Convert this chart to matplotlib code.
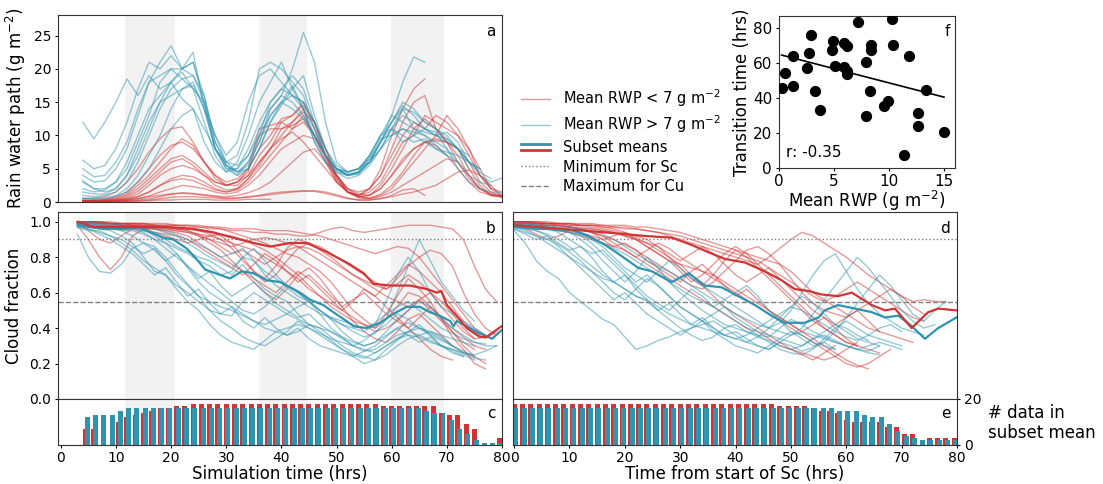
import matplotlib
matplotlib.use('Agg')
import matplotlib.pyplot as plt
import numpy as np
from matplotlib.lines import Line2D
from matplotlib.legend_handler import HandlerBase

red = '#cf3535'
blue = '#2f94b0'

# ---- panel a: rain water path (g m-2), every 2 h from t=4
t_rwp = np.arange(4, 81, 2)
rwp_blue = [
    [12, 9.5, 12, 15, 18.5, 16, 19, 17, 18, 15.5, 14, 9, 6, 4.5, 6, 10, 15, 18, 21, 17, 14, 10, 7, 5, 4.5, 5, 7, 10, 13, 12, 11, 10.5, 10, 10.5, 9, 6, 4, 3, 3.6],
    [6.3, 5, 5.5, 8, 12, 17, 21, 20, 22, 20, 22.5, 14, 8, 5, 4, 6, 9, 13, 15, 16, 14, 9, 6, 4.5, 4, 4.5, 7, 10, 12, 14.5, 13, 11, 10.5, 8, 5, 3, 2, 1.5, 1.4],
    [5, 3.8, 4, 6, 9, 14, 18, 21, 23.5, 20, 21, 15, 8, 5.5, 4, 5, 8, 12, 14.5, 17, 19, 13, 8, 5, 4, 4.3, 6, 9, 13, 18, 21.8, 21],
    [4, 3, 3.2, 5, 8, 13, 18, 19, 20, 18.5, 19, 16, 9, 5.5, 4.5, 5.5, 9, 14, 16, 20, 25.5, 21, 12, 6, 4.5, 5, 7, 10, 11, 9, 10, 11, 10, 9, 8, 7],
    [3, 2, 2, 3, 5, 9, 13, 18, 20, 20, 19, 15, 8, 5.5, 4.5, 6, 10, 15, 17, 19, 17, 12, 7, 5, 4, 4.5, 6, 8, 11, 13, 12, 11, 10, 9.5, 8, 6, 5],
    [1, 0.8, 1, 1.5, 3, 6, 10, 14, 17, 18.5, 17, 15, 10, 6, 4.5, 5, 8, 12, 15, 17.5, 14, 9, 6, 4.5, 3.5, 4, 5.5, 8, 11, 14, 13.5, 12, 11, 10, 8, 5],
    [0.6, 0.5, 0.6, 1, 2, 4, 7, 10, 14, 17, 17.5, 14, 8, 5, 5, 7, 11, 14, 16, 15, 13, 10, 7, 5, 4.5, 5, 6, 8, 10, 11, 10.5, 10, 9, 8, 6, 4, 3, 2.5],
    [0.5, 0.4, 0.5, 0.8, 1.5, 3, 5, 8, 11, 13, 14, 11, 8, 6, 7, 12, 20, 21, 20, 18, 16, 11, 7, 5, 4, 4.5, 6, 9, 12, 14, 11, 10, 8.5, 7, 6],
    [3.2, 2, 1.5, 2, 4, 8, 12, 15, 16, 17, 18, 14, 10, 7, 9, 15, 19, 20, 18, 16, 15, 12, 8, 5.5, 4.5, 5, 6.5, 9, 11, 10, 9, 9.5, 8, 7.5, 7, 6, 5],
    [2, 1.5, 1.8, 3, 6, 10, 14, 16, 18, 19.5, 17, 12, 7, 4.5, 5, 8, 12, 15, 17, 16, 15, 11, 7, 4.8, 4, 4.2, 6, 9, 12, 15, 14, 12, 11, 9.5, 8, 6, 4.5, 3.5],
    [1.5, 1.2, 1.2, 2, 4, 7, 11, 15, 18, 20, 21, 16, 9, 6, 5.5, 7, 10, 13, 15, 14, 12.5, 10, 7, 5, 4.2, 4.5, 6.5, 9.5, 10, 11, 10, 9, 8, 7],
]
rwp_red = [
    [0.5, 0.6, 0.8, 1.5, 3, 5, 7.5, 9.5, 11, 11.3, 9, 6, 3.5, 2.5, 3, 5, 11, 11.5, 12, 13, 14.5, 12, 7, 3.5, 1.5, 1, 2, 5, 10, 14, 17, 18.5],
    [0.3, 0.3, 0.4, 0.8, 1.5, 3, 5, 7, 8.5, 9, 8, 6, 4, 3, 3.5, 5, 8, 10, 12.5, 13, 15, 12, 8, 4, 2, 1.5, 2, 4, 8, 12, 15, 16, 11, 9, 7, 4, 2, 1.2, 1],
    [0.2, 0.2, 0.3, 0.5, 1, 2, 3.5, 5, 6.5, 7, 6, 4.5, 3, 2.5, 3, 4, 6, 8, 11, 12, 14, 11, 6.5, 3, 1.5, 1, 1.5, 3, 6, 9, 10, 13, 12, 11, 10, 8, 4, 2, 1.5],
    [0.2, 0.2, 0.2, 0.3, 0.6, 1.2, 2.5, 4, 5, 5.5, 5, 4, 3, 2.5, 3, 4.5, 10, 11, 11, 11.5, 12.5, 10, 7, 4, 2, 1.2, 1, 2, 4, 6, 8, 9, 9.5, 9, 8, 5, 2.5, 1, 0.8],
    [0.1, 0.1, 0.2, 0.3, 0.5, 0.8, 1.5, 2.5, 3.5, 4, 3.8, 3, 2, 1.5, 1.8, 3, 5, 7, 9, 11, 12, 10, 7, 3.5, 1.5, 0.8, 1, 2, 4, 6.5, 8, 9, 9.2, 9, 8, 6, 3, 1.5, 0.8],
    [0.1, 0.1, 0.1, 0.2, 0.3, 0.5, 0.9, 1.5, 2, 2.5, 2.3, 2, 1.5, 1.2, 1.5, 2.5, 4, 6, 8, 9, 10, 9.5, 7, 4, 1.5, 0.6, 0.5, 1, 2, 4, 6, 8, 10, 13, 11, 8, 5, 2, 1],
    [0.1, 0.1, 0.1, 0.1, 0.2, 0.3, 0.5, 0.8, 1.2, 1.4, 1.3, 1.1, 0.9, 0.8, 1, 1.4, 2, 3, 4.5, 6, 7.5, 8, 6, 4, 2, 0.8, 0.5, 0.8, 1.5, 2.5, 3.5, 4.5, 5.5, 6.5, 6, 4, 2, 1, 0.7],
    [0.1, 0.1, 0.1, 0.1, 0.1, 0.2, 0.3, 0.5, 0.7, 0.8, 0.8, 0.7, 0.6, 0.5, 0.6, 0.8, 1, 1.3, 1.5, 1.6, 1.7, 1.6, 1.3, 0.9, 0.5, 0.3, 0.3, 0.5, 0.8, 1.2, 1.5, 2, 2.5, 3.5, 4.5, 4.8, 4, 2.5, 0.8],
    [0.1, 0.1, 0.1, 0.1, 0.1, 0.1, 0.2, 0.3, 0.3, 0.4, 0.4, 0.4, 0.3, 0.3, 0.3, 0.4, 0.4, 0.4],
    [0.1, 0.1, 0.1, 0.2, 0.3, 0.5, 0.8, 1, 1.2, 1.3, 1.2, 1, 0.8, 0.6, 0.6, 0.7, 0.9, 1.1, 1.3, 1.5, 1.6, 1.7, 1.5, 1.1, 0.6, 0.3, 0.3, 0.5, 1, 1.8, 2, 1],
    [0.2, 0.2, 0.3, 0.6, 1.2, 2.5, 4, 6, 8, 9.5, 8.5, 6, 4, 2.5, 2.5, 4, 7, 9, 12, 11, 13, 10, 6, 3, 1.5, 1, 2, 4, 7, 10, 12, 11, 13, 12, 10, 7, 4, 2],
    [0.1, 0.1, 0.2, 0.4, 0.8, 1.6, 3, 4.5, 6, 6.5, 5.5, 4, 2.5, 1.8, 2, 3.5, 6, 8, 10, 12, 13.5, 12, 8, 4, 1.5, 0.8, 1, 2.5, 5, 8, 11, 12.5, 11, 9, 6, 3.5, 2, 1.2, 0.9],
    [0.1, 0.1, 0.1, 0.2, 0.4, 0.8, 1.5, 2.5, 3.2, 3.5, 3.2, 2.5, 1.8, 1.5, 2, 3.5, 5.5, 8, 9.5, 10.5, 9, 7, 5, 3, 1.5, 0.8, 0.6, 1.2, 2.5, 4.5, 7, 9, 8.5, 7, 5, 3, 1.5, 1, 0.8],
]

# ---- panel b: cloud fraction (%) vs simulation time, every 2 h from t=3
t_cf = np.arange(3, 80, 2)
cf_blue = [
    [93, 80, 72, 71, 76, 85, 88, 86, 80, 72, 65, 58, 55, 52, 50, 47, 44, 42, 45, 48, 52, 55, 48, 40, 35, 30, 27, 28, 32, 36, 38, 36, 33, 30, 28, 26, 25, 27, 30],
    [98, 97, 96, 95, 92, 88, 80, 72, 70, 62, 55, 50, 42, 36, 32, 30, 28, 33, 38, 40, 42, 40, 37, 34, 32, 30, 28, 26, 30, 34, 36, 35, 32, 30, 28, 25, 22],
    [100, 100, 99, 99, 98, 97, 96, 92, 88, 82, 74, 66, 60, 56, 52, 48, 44, 40, 38, 36, 38, 42, 40, 35, 30, 26, 24, 22, 25, 30, 34, 36, 38, 35, 30, 26, 23, 22],
    [99, 99, 98, 98, 97, 96, 94, 90, 85, 80, 75, 70, 65, 60, 55, 50, 48, 52, 58, 55, 48, 42, 38, 33, 28, 24, 20, 22, 28, 33, 38, 40, 37, 34, 30, 27, 24],
    [98, 98, 97, 96, 95, 95, 93, 90, 88, 85, 82, 78, 75, 70, 72, 80, 85, 78, 70, 64, 60, 55, 50, 45, 38, 33, 30, 32, 38, 45, 50, 55, 52, 45, 40, 36, 32, 31],
    [99, 98, 97, 97, 96, 96, 95, 94, 93, 92, 88, 84, 80, 77, 74, 80, 78, 72, 68, 63, 58, 55, 50, 46, 42, 40, 38, 42, 55, 70, 80, 72, 60, 52, 48, 44, 40, 36],
    [98, 98, 97, 97, 96, 96, 95, 93, 90, 86, 83, 80, 78, 74, 70, 76, 68, 62, 58, 64, 60, 55, 50, 45, 42, 38, 35, 37, 45, 60, 75, 90, 78, 66, 58, 50, 44],
    [99, 99, 98, 98, 98, 97, 97, 96, 95, 93, 90, 87, 84, 80, 82, 85, 78, 70, 64, 60, 56, 52, 48, 46, 44, 42, 40, 43, 48, 52, 55, 50, 45, 40, 37, 34, 32, 30, 30],
    [97, 96, 94, 92, 88, 84, 78, 74, 70, 64, 60, 55, 50, 48, 47, 55, 60, 56, 52, 48, 45, 42, 40, 38, 35, 32, 30, 32, 36, 40, 43, 40, 38, 36, 34, 32, 30],
    [98, 96, 93, 90, 86, 82, 76, 70, 74, 66, 58, 62, 54, 48, 52, 44, 40, 46, 40, 36, 40, 34, 30, 28, 26, 24, 27, 30, 35, 40, 36, 32, 35, 30, 27, 24],
    [99, 98, 98, 97, 95, 92, 88, 84, 78, 82, 75, 68, 72, 64, 58, 62, 66, 60, 54, 50, 46, 48, 42, 38, 34, 30, 33, 38, 42, 48, 45, 40, 36, 33, 30],
    [97, 95, 95, 92, 90, 86, 82, 85, 78, 70, 64, 58, 50, 44, 40, 35, 32, 30, 34, 38, 44, 40, 36, 32, 28, 25, 23, 26, 30, 34, 38, 42, 36, 30, 26, 24],
]
cf_red = [
    [100, 100, 100, 99, 99, 99, 99, 98, 98, 98, 97, 97, 96, 96, 95, 95, 94, 94, 93, 93, 92, 92, 94, 96, 97, 95, 94, 95, 96, 97, 98, 98, 98, 97, 96, 90, 75, 62, 55],
    [99, 95, 90, 88, 92, 96, 97, 97, 97, 96, 96, 95, 94, 92, 88, 80, 72, 68, 75, 85, 90, 88, 84, 80, 75, 70, 66, 62, 58, 55, 52, 56, 60, 55, 48, 40, 34, 35],
    [100, 100, 99, 99, 99, 98, 98, 98, 97, 97, 96, 95, 93, 90, 85, 78, 72, 66, 70, 78, 85, 88, 86, 82, 78, 74, 70, 66, 62, 65, 70, 66, 60, 52, 45, 38, 34],
    [100, 100, 100, 100, 99, 99, 99, 99, 99, 98, 98, 98, 97, 96, 94, 92, 90, 88, 85, 82, 80, 76, 72, 66, 58, 50, 45, 40, 48, 58, 68, 62, 55, 45, 35, 28, 20, 17],
    [100, 100, 99, 99, 98, 98, 97, 97, 96, 95, 94, 92, 90, 88, 86, 88, 90, 91, 90, 88, 86, 85, 82, 78, 74, 70, 67, 64, 62, 68, 75, 80, 84, 82, 75, 60, 48, 40, 36],
    [99, 99, 99, 98, 98, 98, 98, 97, 97, 96, 95, 92, 88, 84, 78, 72, 66, 60, 56, 62, 70, 74, 68, 60, 52, 44, 38, 34, 32, 38, 45, 48, 42, 36, 30, 26, 24],
    [100, 100, 100, 99, 99, 99, 99, 98, 98, 98, 98, 97, 97, 97, 96, 96, 96, 95, 95, 95, 94, 93, 92, 90, 88, 86, 84, 82, 84, 86, 85, 80, 72, 64, 56, 48, 40, 36],
    [98, 90, 80, 73, 80, 92, 96, 96, 96, 95, 94, 93, 92, 90, 88, 86, 84, 80, 76, 72, 68, 62, 58, 54, 50, 55, 62, 58, 52, 46, 40, 34, 28, 24, 22],
    [100, 100, 99, 99, 98, 97, 96, 94, 92, 90, 88, 90, 92, 93, 92, 90, 87, 84, 80, 75, 70, 64, 58, 52, 48, 44, 42, 40, 45, 52, 60, 58, 52, 46, 40, 35, 30, 28],
    [100, 100, 99, 99, 98, 98, 97, 96, 94, 92, 90, 86, 82, 78, 74, 70, 76, 82, 78, 72, 66, 70, 64, 58, 52, 56, 60, 54, 48, 44, 40, 46, 52, 46, 38, 30, 24, 20],
    [100, 100, 100, 99, 99, 99, 98, 98, 97, 96, 95, 93, 90, 86, 82, 84, 80, 76, 80, 84, 86, 82, 78, 74, 70, 66, 62, 58, 64, 70, 76, 72, 66, 60, 52, 44, 38, 34, 38],
    [99, 99, 98, 98, 97, 97, 96, 96, 95, 94, 92, 88, 84, 80, 76, 72, 68, 64, 60, 66, 72, 68, 62, 56, 50, 46, 42, 38, 40, 44, 50, 56, 50, 44, 38, 32, 28],
]
# subset means (simulation time)
tb_mean_blue = [3.2, 5.3, 7.7, 11.9, 14.1, 18.6, 20.4, 22.8, 24.6, 26.2, 28.9, 30.7, 32.8, 34.9, 37.3, 39.8, 41.6, 43.4, 45.2, 47.6, 49.4, 51.8, 53.1, 55.5, 57.9, 60.3, 62.7, 65.1, 66.9, 68.7, 70.6, 71.2, 71.8, 73.6, 76, 78.2, 80]
cfb_mean_blue = [0.98, 0.97, 0.96, 0.96, 0.97, 0.91, 0.9, 0.85, 0.79, 0.73, 0.7, 0.68, 0.72, 0.71, 0.67, 0.66, 0.63, 0.6, 0.56, 0.53, 0.49, 0.44, 0.41, 0.4, 0.43, 0.48, 0.52, 0.52, 0.49, 0.47, 0.44, 0.41, 0.44, 0.41, 0.37, 0.34, 0.39]
tb_mean_red = [3.2, 6, 12, 19.2, 24, 27.7, 30, 32.5, 35, 38, 41.6, 44.6, 48.2, 50, 52.4, 54.9, 56.7, 59.7, 63.3, 66.4, 68.2, 69, 70, 71.5, 73.6, 76, 77.2, 79.9]
cfb_mean_red = [1.0, 0.97, 0.97, 0.97, 0.96, 0.94, 0.92, 0.9, 0.88, 0.86, 0.88, 0.88, 0.83, 0.8, 0.76, 0.71, 0.65, 0.64, 0.64, 0.62, 0.6, 0.61, 0.53, 0.48, 0.4, 0.35, 0.35, 0.41]

# ---- panel d: cloud fraction (%) vs time from start of Sc, every 2 h from 0
t_sc = np.arange(0, 80, 2)
cfd_blue = [
    [95, 88, 78, 72, 68, 60, 55, 50, 45, 42, 35, 28, 30, 33, 35, 38, 40, 42, 44, 40, 36, 32, 30, 28, 32, 36, 38, 36, 34, 32, 30, 28, 27, 30],
    [97, 96, 95, 93, 90, 86, 80, 75, 70, 66, 62, 58, 55, 50, 45, 40, 36, 33, 35, 40, 42, 38, 35, 33, 30, 28, 30, 34, 36, 33, 30, 28, 26, 25],
    [99, 99, 98, 97, 96, 94, 90, 85, 78, 72, 66, 72, 80, 74, 66, 60, 55, 50, 46, 42, 40, 38, 36, 35, 40, 45, 42, 38, 35, 32, 30, 28, 30, 32, 30, 28],
    [98, 98, 97, 96, 95, 94, 92, 88, 82, 76, 70, 64, 58, 54, 50, 56, 62, 58, 52, 48, 44, 40, 36, 32, 28, 26, 25, 28, 34, 40, 44, 40, 36, 34, 32, 30],
    [99, 98, 98, 97, 96, 95, 93, 90, 86, 80, 74, 70, 66, 72, 78, 74, 68, 64, 60, 56, 52, 48, 44, 40, 38, 36, 40, 48, 56, 64, 72, 80, 74, 66, 58, 50, 44, 40, 42],
    [98, 97, 96, 96, 95, 94, 93, 91, 88, 85, 82, 78, 74, 70, 66, 62, 58, 55, 52, 56, 60, 64, 58, 50, 44, 38, 34, 30, 32, 38, 46, 54, 62, 70, 64, 56, 48, 44, 50, 55],
    [96, 94, 92, 90, 87, 83, 78, 72, 66, 60, 56, 62, 68, 64, 58, 52, 48, 44, 40, 36, 34, 32, 35, 40, 46, 52, 58, 54, 48, 42, 38, 34, 32, 30],
    [99, 99, 98, 98, 97, 97, 96, 95, 93, 90, 86, 82, 78, 75, 72, 68, 64, 60, 56, 52, 48, 45, 42, 40, 43, 50, 60, 70, 78, 82, 72, 62, 54, 48, 44, 40, 38, 36],
    [97, 95, 92, 88, 84, 80, 76, 72, 68, 66, 62, 58, 56, 52, 48, 45, 42, 40, 38, 36, 34, 36, 40, 44, 48, 52, 50, 46, 42, 38, 35, 33, 36, 40, 42, 38],
    [98, 97, 95, 92, 88, 84, 86, 80, 72, 66, 70, 62, 56, 50, 54, 48, 42, 46, 40, 36, 38, 34, 30, 28, 32, 30, 27, 29, 32, 28],
    [99, 98, 97, 96, 94, 90, 86, 82, 84, 78, 72, 66, 70, 64, 58, 52, 48, 44, 48, 52, 46, 42, 38, 36, 34, 32, 30, 34, 38, 42, 40, 36, 33],
    [96, 93, 90, 92, 86, 80, 74, 68, 62, 56, 60, 54, 48, 44, 40, 36, 40, 44, 38, 34, 30, 28, 26, 30, 34, 38, 36, 32, 30, 28],
]
cfd_red = [
    [100, 100, 99, 99, 99, 98, 98, 98, 97, 97, 96, 96, 95, 94, 92, 90, 88, 86, 84, 82, 80, 78, 76, 80, 85, 90, 94, 92, 88, 84, 80, 75, 70, 66, 62, 58, 55, 56, 55, 55],
    [98, 96, 93, 90, 92, 95, 96, 96, 95, 94, 92, 90, 86, 82, 78, 72, 66, 70, 76, 82, 86, 82, 76, 70, 64, 58, 52, 46, 40, 36, 32, 30, 28, 26],
    [100, 100, 100, 99, 99, 99, 98, 98, 97, 96, 94, 92, 90, 86, 80, 74, 68, 64, 70, 78, 84, 80, 74, 68, 62, 56, 50, 44, 40, 36, 32, 30],
    [99, 99, 98, 98, 97, 97, 96, 94, 92, 88, 84, 80, 84, 88, 85, 80, 76, 72, 68, 64, 60, 56, 52, 48, 44, 40, 36, 32, 28, 24, 20, 18, 20, 24, 28],
    [100, 100, 99, 99, 99, 99, 98, 98, 98, 97, 97, 96, 95, 94, 93, 92, 90, 88, 86, 84, 82, 80, 78, 74, 70, 66, 62, 58, 55, 58, 62, 66, 62, 58, 54, 50, 46, 44],
    [99, 98, 97, 96, 95, 94, 92, 90, 88, 86, 84, 80, 76, 72, 68, 64, 60, 56, 52, 48, 44, 40, 38, 34, 30, 28, 26, 24, 22, 24, 28, 32],
    [100, 100, 100, 100, 99, 99, 99, 99, 98, 98, 98, 97, 97, 96, 95, 94, 92, 90, 88, 86, 84, 82, 80, 78, 76, 72, 66, 60, 56, 52, 48, 44, 40, 38, 36, 34, 32],
    [99, 99, 98, 97, 96, 95, 94, 92, 90, 92, 94, 90, 86, 82, 78, 76, 74, 72, 70, 66, 62, 58, 54, 50, 46, 42, 38, 34, 30, 26, 22, 19, 17],
    [100, 99, 99, 98, 98, 97, 96, 94, 92, 90, 87, 84, 80, 76, 72, 68, 64, 62, 66, 72, 78, 84, 86, 82, 76, 68, 60, 54, 50, 48, 46, 50, 54, 58, 62, 58, 52, 48],
    [100, 100, 99, 99, 98, 97, 96, 94, 90, 86, 88, 84, 78, 74, 70, 66, 72, 76, 70, 64, 58, 62, 56, 50, 46, 42, 38, 42, 46, 40, 34, 30],
    [99, 99, 99, 98, 98, 97, 97, 96, 95, 94, 92, 90, 88, 86, 82, 78, 82, 86, 82, 76, 70, 66, 70, 74, 68, 62, 56, 50, 46, 42, 46, 50, 44, 38],
    [100, 100, 100, 99, 99, 98, 98, 97, 96, 95, 93, 91, 88, 84, 80, 76, 70, 64, 58, 52, 48, 44, 40, 36, 32, 28, 25, 22, 26, 30],
]
td_mean_red = [0.2, 4.4, 16.4, 23.6, 28.5, 32, 35.7, 38.1, 41.7, 45.3, 48.3, 50.7, 53.1, 55.5, 58.5, 61, 64.6, 67, 68.8, 71.8, 74.8, 76.6, 79.9]
cfd_mean_red = [0.98, 0.97, 0.94, 0.92, 0.91, 0.87, 0.82, 0.79, 0.77, 0.72, 0.67, 0.62, 0.61, 0.59, 0.58, 0.6, 0.53, 0.5, 0.51, 0.4, 0.49, 0.51, 0.5]
td_mean_blue = [0.2, 4.4, 10.4, 13.4, 16.4, 18.8, 22.4, 24.9, 28.5, 31.5, 34.5, 37.5, 40.5, 43.5, 46.5, 48.9, 52.5, 55, 56.1, 58.5, 61.6, 64.6, 67, 69.4, 71.5, 74.2, 76.6, 79.9]
cfd_mean_blue = [0.97, 0.96, 0.955, 0.92, 0.87, 0.82, 0.74, 0.72, 0.66, 0.71, 0.64, 0.63, 0.58, 0.53, 0.47, 0.43, 0.43, 0.46, 0.5, 0.53, 0.51, 0.49, 0.46, 0.47, 0.42, 0.34, 0.4, 0.46]

# ---- panels c / e: number of members in subset mean, every 1.5 h
t_bar = np.arange(0, 80, 1.5)
n_sim_red = [0, 0, 0, 7, 7, 0, 0, 10, 12, 13, 14, 15, 16, 16, 17, 17] + [18] * 23 + [17] * 7 + [14, 13, 13, 9, 7, 0, 0, 3]
n_sim_blue = [0, 0, 0, 12, 13, 13, 13, 15] + [16] * 36 + [15, 14, 14, 11, 7, 5, 2, 1, 1, 1]
n_sc_red = [18] * 32 + [17] * 4 + [16, 15, 15, 14, 11, 10, 10, 10, 10, 8, 8, 5, 5, 0] + [3] * 4
n_sc_blue = [16] * 39 + [15] * 3 + [13, 12, 12, 9, 6, 4, 3] + [2] * 5

# ---- panel f: scatter
rwp_mean = [0.24, 0.55, 1.3, 1.3, 2.5, 2.76, 2.88, 3.27, 3.73, 4.8, 4.94, 5.1, 5.9, 5.9, 6.15, 6.2, 6.2,
            7.2, 7.9, 7.9, 8.3, 8.33, 8.36, 9.5, 9.9, 10.3, 10.4, 11.8, 11.4, 12.6, 12.6, 13.4, 15.0]
trans_time = [45.8, 54.6, 63.9, 47, 57.3, 65.6, 76.3, 44.3, 33, 67.7, 72.5, 58.2, 71.4, 57.6, 55.7, 70, 53.8,
              83.4, 60.5, 30, 44, 70.6, 67.7, 35.5, 38.4, 85.5, 70.2, 64, 7.6, 31.5, 23.9, 44.7, 20.8]

night_start = [11.7, 36.0, 59.8]
night_end = [20.7, 44.7, 69.4]


def pad(vals, n):
    out = np.full(n, np.nan)
    vals = np.asarray(vals, dtype=float)[:n]
    out[:len(vals)] = vals
    return out


plt.rcParams['axes.edgecolor'] = '#333333'
plt.rcParams['xtick.labelsize'] = 10
plt.rcParams['ytick.labelsize'] = 10
plt.rcParams['xtick.major.size'] = 2.5
plt.rcParams['ytick.major.size'] = 2.5
plt.rcParams['xtick.major.pad'] = 2
plt.rcParams['ytick.major.pad'] = 2.5
fs_lab = 12
lwd = 1.0
alf = 0.5

W, H = 1103., 484.
def box(l, t, r, b):
    return [l / W, 1 - b / H, (r - l) / W, (b - t) / H]

fig = plt.figure(figsize=(11.03, 4.84), dpi=100)
ax_a = fig.add_axes(box(58, 15, 502, 202))
ax_b = fig.add_axes(box(58, 212, 502, 399))
ax_c = fig.add_axes(box(58, 399, 502, 445))
ax_d = fig.add_axes(box(513, 212, 957, 399))
ax_e = fig.add_axes(box(513, 399, 957, 445))
ax_f = fig.add_axes(box(779, 16, 955, 168))

for ax in [ax_a, ax_b, ax_c]:
    for s, e in zip(night_start, night_end):
        ax.axvspan(s, e, color='0.95', lw=0, zorder=0)

# a
for v in rwp_red:
    ax_a.plot(t_rwp, pad(v, len(t_rwp)), color=red, lw=lwd, alpha=alf)
for v in rwp_blue:
    ax_a.plot(t_rwp, pad(v, len(t_rwp)), color=blue, lw=lwd, alpha=alf)
ax_a.set_xlim(-0.5, 80)
ax_a.set_ylim(0, 28.1)
ax_a.set_xticks([])
ax_a.set_ylabel('Rain water path (g m$^{-2}$)', fontsize=fs_lab)

# b and d
for ax, tt, reds, blues in [(ax_b, t_cf, cf_red, cf_blue), (ax_d, t_sc, cfd_red, cfd_blue)]:
    for v in reds:
        ax.plot(tt, pad(v, len(tt)) / 100., color=red, lw=lwd, alpha=alf)
    for v in blues:
        ax.plot(tt, pad(v, len(tt)) / 100., color=blue, lw=lwd, alpha=alf)
    ax.axhline(0.9, color='grey', lw=1, ls=':')
    ax.axhline(0.55, color='grey', lw=1, ls='--')
    ax.set_ylim(0, 1.055)
    ax.set_xticks([])

ax_b.plot(tb_mean_blue, cfb_mean_blue, color=blue, lw=1.6)
ax_b.plot(tb_mean_red, cfb_mean_red, color=red, lw=1.6)
ax_d.plot(td_mean_blue, cfd_mean_blue, color=blue, lw=1.6)
ax_d.plot(td_mean_red, cfd_mean_red, color=red, lw=1.6)
ax_b.set_xlim(-0.5, 80)
ax_d.set_xlim(-0.2, 80)
ax_b.set_yticks([0, 0.2, 0.4, 0.6, 0.8, 1.0])
ax_b.set_ylabel('Cloud fraction', fontsize=fs_lab)
ax_d.set_yticks([])

# c and e
for ax, nr, nb in [(ax_c, n_sim_red, n_sim_blue), (ax_e, n_sc_red, n_sc_blue)]:
    ax.bar(t_bar, nr, width=0.9, color=red)
    ax.bar(t_bar + 0.3, nb, width=0.9, color=blue)
    ax.set_ylim(0, 20)
    ax.set_xticks(np.arange(0, 81, 10))
ax_c.set_xlim(-0.5, 80)
ax_e.set_xlim(-0.2, 80)
ax_c.set_yticks([])
ax_e.yaxis.tick_right()
ax_e.set_yticks([0, 20])
ax_c.set_xlabel('Simulation time (hrs)', fontsize=fs_lab, labelpad=0)
ax_e.set_xlabel('Time from start of Sc (hrs)', fontsize=fs_lab, labelpad=0)
fig.text(988 / W, 1 - 423 / H, '# data in\nsubset mean', fontsize=fs_lab, ha='left', va='center')

for ax, lab, yy in [(ax_a, 'a', 0.95), (ax_b, 'b', 0.95), (ax_d, 'd', 0.95), (ax_c, 'c', 0.85), (ax_e, 'e', 0.85)]:
    ax.text(0.985, yy, lab, transform=ax.transAxes, ha='right', va='top', fontsize=11)

# f
ax_f.scatter(rwp_mean, trans_time, s=50, color='black', zorder=3)
k, b0 = np.polyfit(rwp_mean, trans_time, 1)
xx = np.array([min(rwp_mean), max(rwp_mean)])
ax_f.plot(xx, k * xx + b0, color='black', lw=1.2)
ax_f.set_xlim(0, 16)
ax_f.set_ylim(0, 87)
ax_f.set_xticks([0, 5, 10, 15])
ax_f.set_yticks([0, 20, 40, 60, 80])
ax_f.tick_params(labelsize=11)
ax_f.set_xlabel('Mean RWP (g m$^{-2}$)', fontsize=fs_lab, labelpad=0)
ax_f.set_ylabel('Transition time (hrs)', fontsize=fs_lab, labelpad=1)
ax_f.text(0.04, 0.1, 'r: -0.35', transform=ax_f.transAxes, fontsize=11, va='center')
ax_f.text(0.97, 0.95, 'f', transform=ax_f.transAxes, ha='right', va='top', fontsize=11)


class HandlerMeans(HandlerBase):
    def create_artists(self, legend, orig_handle, xdescent, ydescent, width, height, fontsize, trans):
        y0 = height / 2. - ydescent
        x = [-xdescent, width - xdescent]
        l1 = Line2D(x, [y0 + 2, y0 + 2], color=blue, lw=2, transform=trans)
        l2 = Line2D(x, [y0 - 2, y0 - 2], color=red, lw=2, transform=trans)
        return [l1, l2]


handles = [Line2D([], [], color=red, lw=1, alpha=alf),
           Line2D([], [], color=blue, lw=1, alpha=alf),
           (Line2D([], [], color=blue), Line2D([], [], color=red)),
           Line2D([], [], color='grey', lw=1, ls=':'),
           Line2D([], [], color='grey', lw=1, ls='--')]
labels = ['Mean RWP < 7 g m$^{-2}$', 'Mean RWP > 7 g m$^{-2}$', 'Subset means',
          'Minimum for Sc', 'Maximum for Cu']
fig.legend(handles, labels, loc='upper left', bbox_to_anchor=(508 / W, 1 - 74 / H),
           frameon=False, fontsize=10.5, labelspacing=0.32, handletextpad=0.9,
           handler_map={tuple: HandlerMeans()})

plt.savefig('out.png', dpi=100)
plt.close(fig)
